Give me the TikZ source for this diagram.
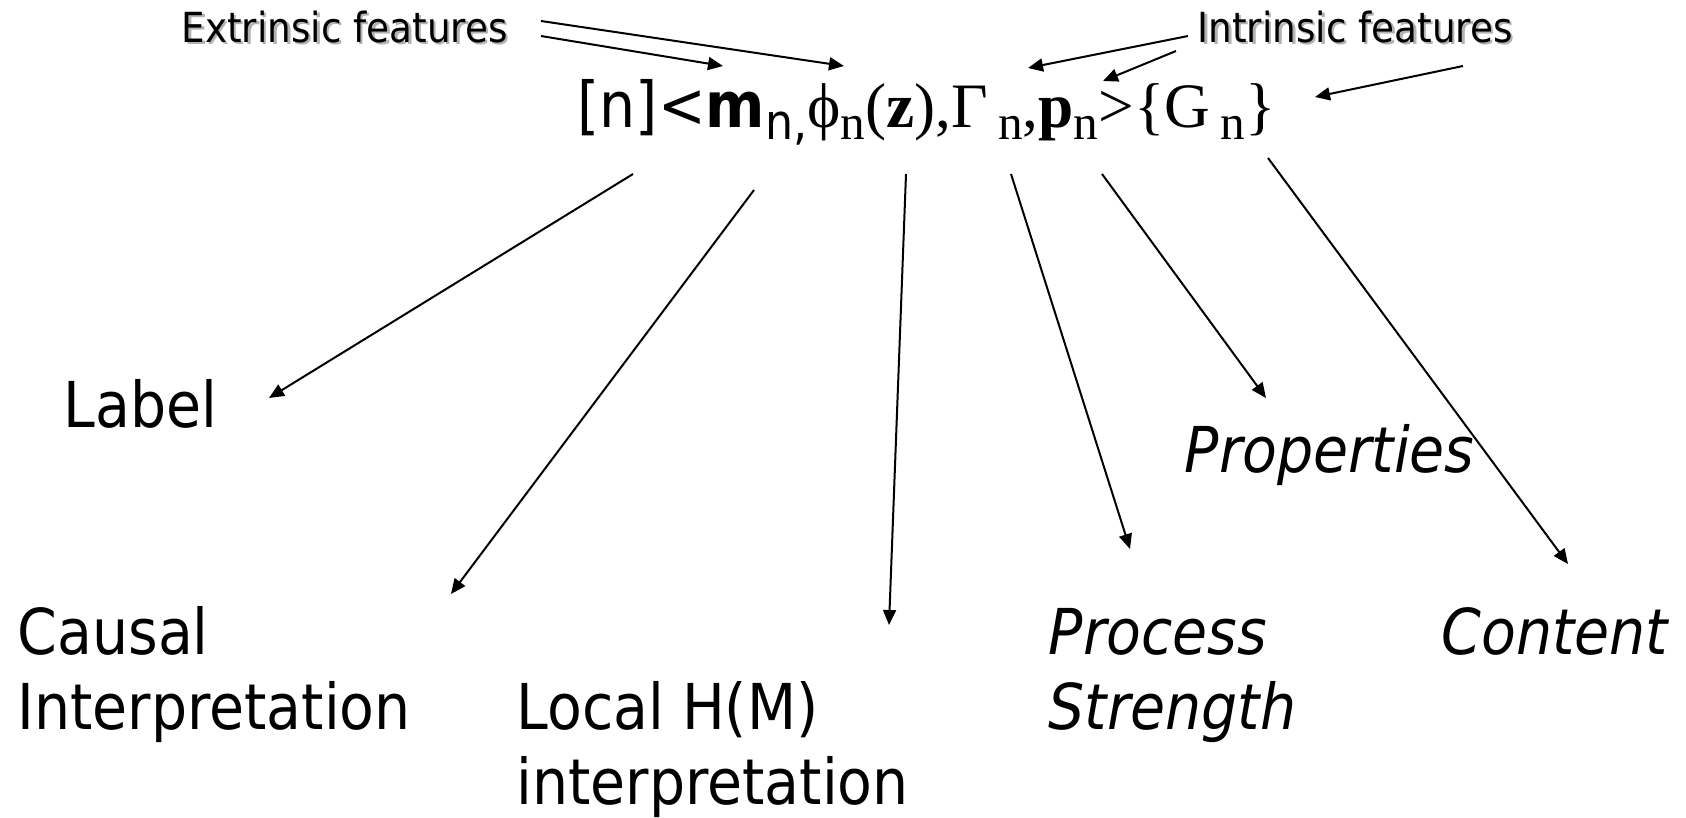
\documentclass[tikz,border=0pt]{standalone}
\usepackage{fontspec}
\setmainfont{DejaVu Sans Condensed}[BoldFont={DejaVu Sans Condensed Bold},ItalicFont={DejaVu Sans Condensed Oblique}]
\newfontfamily\tmsfont{Liberation Serif}
\usetikzlibrary{arrows.meta,calc}

% lowered index, as in the node descriptor
\newcommand\lowsub[1]{\raisebox{-3.5pt}{\fontsize{14}{14}\selectfont #1}}
% small caption with a soft grey shadow
\newcommand\shadowed[1]{\makebox[0pt][l]{\hspace{0.7pt}\raisebox{-0.7pt}{\textcolor{black!30}{#1}}}#1}

\tikzset{
  feat/.style={-{Triangle[length=0.15cm,width=0.13cm]}, line width=0.02cm},
  term/.style={anchor=base west, inner sep=0pt, align=left, font=\fontsize{18}{21.3}\selectfont},
  kind/.style={anchor=base west, inner sep=0pt, font=\fontsize{11.8}{14}\selectfont},
}

\begin{document}
\begin{tikzpicture}
    \useasboundingbox (0,0) rectangle (16.86,-8.17);

    % the descriptor and the two feature captions
    \node[term] (fml) at (5.77,-1.27) {[n]<\textbf{m}\lowsub{n,}{\tmsfont\fontsize{18}{21}\selectfont ϕ\lowsub{n}(\textbf{z}),Γ\,\lowsub{n},\textbf{p}\lowsub{n}>\{G\,\lowsub{n}\}}};
    \node[kind] (ext) at (1.81,-0.42) {\shadowed{Extrinsic features}};
    \node[kind] (intr) at (11.97,-0.42) {\shadowed{Intrinsic features}};

    % what each part stands for (two-line nodes sit on their last line)
    \node[term] (lbl) at (0.63,-4.27) {Label};
    \node[term] (causal) at (0.17,-7.29) {Causal\\Interpretation};
    \node[term] (local) at (5.16,-8.04) {Local H(M)\\interpretation};
    \node[term] (process) at (10.48,-7.29) {\itshape Process\\\itshape Strength};
    \node[term] (props) at (11.84,-4.72) {\itshape Properties};
    \node[term] (content) at (14.41,-6.54) {\itshape Content};

    % captions pointing at the descriptor
    \draw[feat] ($(ext.base west)+(3.60,0.21)$) -- ($(fml.base west)+(2.67,0.61)$);
    \draw[feat] ($(ext.base west)+(3.60,0.06)$) -- ($(fml.base west)+(1.46,0.61)$);
    \draw[feat] ($(intr.base west)+(-0.09,0.06)$) -- ($(fml.base west)+(4.51,0.59)$);
    \draw[feat] ($(intr.base west)+(-0.21,-0.09)$) -- ($(fml.base west)+(5.26,0.46)$);
    \draw[feat] ($(intr.base west)+(2.66,-0.24)$) -- ($(fml.base west)+(7.38,0.30)$);

    % descriptor down to its parts
    \draw[feat] ($(fml.base west)+(0.56,-0.47)$) -- ($(lbl.base west)+(2.06,0.29)$);
    \draw[feat] ($(fml.base west)+(1.77,-0.63)$) -- ($(causal.base west)+(4.34,1.35)$);
    \draw[feat] ($(fml.base west)+(3.29,-0.47)$) -- ($(local.base west)+(3.73,1.79)$);
    \draw[feat] ($(fml.base west)+(4.34,-0.47)$) -- ($(process.base west)+(0.82,1.80)$);
    \draw[feat] ($(fml.base west)+(5.25,-0.47)$) -- ($(props.base west)+(0.82,0.74)$);
    \draw[feat] ($(fml.base west)+(6.91,-0.31)$) -- ($(content.base west)+(1.27,0.90)$);
\end{tikzpicture}
\end{document}
